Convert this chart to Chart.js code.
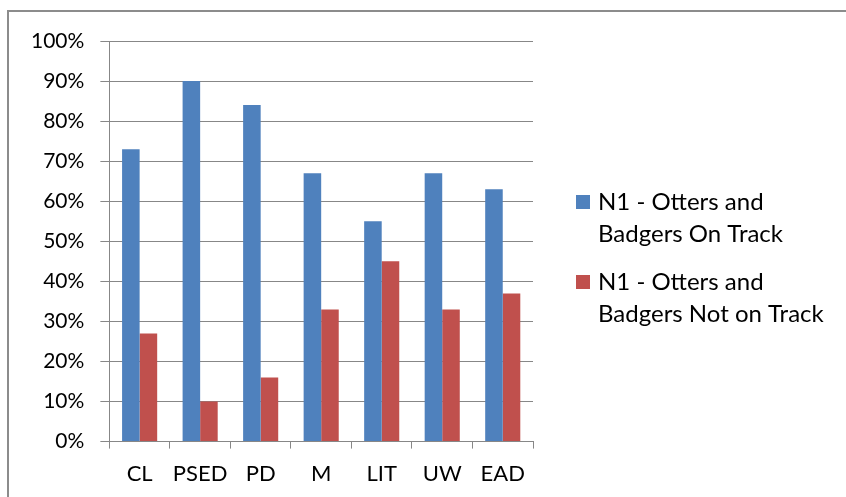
<!DOCTYPE html>
<html>
<head>
<meta charset="utf-8">
<script src="https://cdn.jsdelivr.net/npm/chart.js@4/dist/chart.umd.min.js"></script>
<style>
    html, body { margin: 0; padding: 0; background: #fff; overflow: hidden; }
    #frame {
        position: absolute; left: 7px; top: 10px;
        width: 900px; height: 600px;
        border: 2px solid #8c8c8c; box-sizing: border-box;
    }
    #wrap { position: absolute; left: 0; top: 0; width: 846px; height: 502px; }
</style>
</head>
<body>
<div id="frame"></div>
<div id="wrap"><canvas id="barChart"></canvas></div>
<script>
const categories = ['CL', 'PSED', 'PD', 'M', 'LIT', 'UW', 'EAD']
const onTrack = [73, 90, 84, 67, 55, 67, 63]
const notOnTrack = [27, 10, 16, 33, 45, 33, 37]
const seriesNames = [
    ['N1 - Otters and', 'Badgers On Track'],
    ['N1 - Otters and', 'Badgers Not on Track'],
]

const FONT = 'Lato, "Open Sans", sans-serif'
const gridColor = '#878787'

// legend drawn by hand so each label can wrap onto two lines like the original
const wrappedLegend = {
    id: 'wrappedLegend',
    afterDraw(chart) {
        const ctx = chart.ctx
        const x0 = 576
        const tops = [202, 282]
        ctx.save()
        ctx.font = '24px ' + FONT
        ctx.textBaseline = 'middle'
        ctx.textAlign = 'left'
        chart.data.datasets.forEach((ds, i) => {
            const y = tops[i]
            ctx.fillStyle = ds.backgroundColor
            ctx.fillRect(x0, y - 7, 14, 14)
            ctx.fillStyle = '#000'
            ds.legendLines.forEach((line, j) => {
                ctx.fillText(line, x0 + 22, y + j * 32)
            })
        })
        ctx.restore()
    },
}

new Chart(document.getElementById('barChart'), {
    type: 'bar',
    data: {
        labels: categories,
        datasets: [
            {
                label: seriesNames[0].join(' '),
                legendLines: seriesNames[0],
                data: onTrack,
                backgroundColor: '#4F81BD',
                categoryPercentage: 0.58,
                barPercentage: 1,
            },
            {
                label: seriesNames[1].join(' '),
                legendLines: seriesNames[1],
                data: notOnTrack,
                backgroundColor: '#C0504D',
                categoryPercentage: 0.58,
                barPercentage: 1,
            },
        ],
    },
    options: {
        responsive: true,
        maintainAspectRatio: false,
        animation: false,
        layout: { padding: { left: 15, right: 313, top: 41, bottom: 3 } },
        plugins: {
            legend: { display: false },
            tooltip: { enabled: false },
        },
        scales: {
            x: {
                grid: {
                    offset: true,
                    drawOnChartArea: false,
                    drawTicks: true,
                    tickLength: 7,
                    color: gridColor,
                },
                border: { display: true, color: gridColor, width: 1 },
                ticks: {
                    color: '#000',
                    font: { family: FONT, size: 22 },
                    padding: 12,
                    maxRotation: 0,
                    minRotation: 0,
                    autoSkip: false,
                },
            },
            y: {
                min: 0,
                max: 100,
                grid: {
                    color: gridColor,
                    drawTicks: true,
                    tickLength: 9,
                },
                border: { display: true, color: gridColor, width: 1 },
                ticks: {
                    stepSize: 10,
                    color: '#000',
                    font: { family: FONT, size: 21 },
                    padding: 16,
                    callback: (v) => v + '%',
                },
            },
        },
    },
    plugins: [wrappedLegend],
})
</script>
</body>
</html>
